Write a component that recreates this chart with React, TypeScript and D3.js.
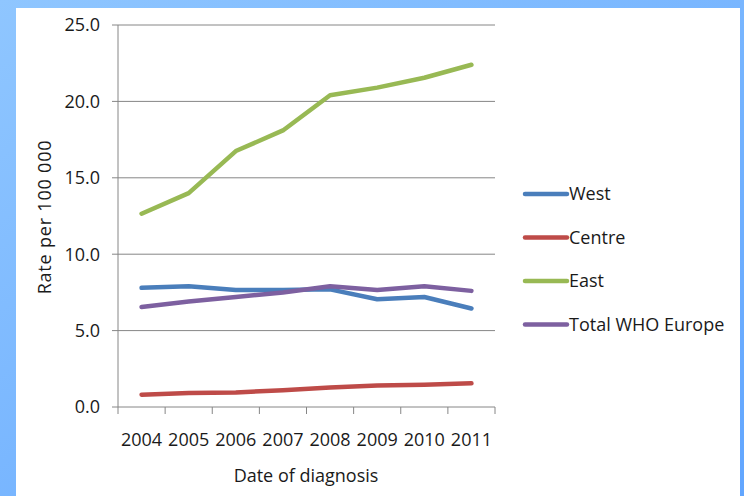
import * as d3 from "d3";

const years = ["2004", "2005", "2006", "2007", "2008", "2009", "2010", "2011"];
const westValues = [7.8, 7.9, 7.65, 7.65, 7.7, 7.05, 7.2, 6.45];
const centreValues = [0.8, 0.92, 0.95, 1.1, 1.28, 1.4, 1.45, 1.55];
const eastValues = [12.65, 14.0, 16.75, 18.1, 20.4, 20.9, 21.55, 22.4];
const totalValues = [6.55, 6.9, 7.2, 7.5, 7.9, 7.65, 7.9, 7.6];
const yTickValues = [0, 5, 10, 15, 20, 25];

const series = [
  { name: "West", color: "#4A7EBB", values: westValues },
  { name: "Centre", color: "#BE4B48", values: centreValues },
  { name: "East", color: "#98B954", values: eastValues },
  { name: "Total WHO Europe", color: "#7D60A0", values: totalValues },
];

const width = 744;
const height = 496;
const plotLeft = 118;
const plotRight = 495;
const plotTop = 25;
const plotBottom = 407;
const font = "'Open Sans', sans-serif";
const axisColor = "#868686";

export default function App() {
  const x = d3.scaleBand(years, [plotLeft, plotRight]);
  const y = d3.scaleLinear([0, 25], [plotBottom, plotTop]);
  const line = d3
    .line<number>()
    .x((_, i) => (x(years[i]) as number) + x.bandwidth() / 2)
    .y((d) => y(d));
  const boundaries = [...years.map((yr) => x(yr) as number), plotRight];

  return (
    <svg
      width={width}
      height={height}
      style={{ position: "fixed", left: 0, top: 0 }}
      fontFamily={font}
    >
      <defs>
        <linearGradient id="frame" x1="0" y1="0" x2="1" y2="1">
          <stop offset="0" stopColor="#8FC6FF" />
          <stop offset="1" stopColor="#62A6FF" />
        </linearGradient>
      </defs>
      <rect width={width} height={height} fill="url(#frame)" />
      <rect x={16} y={8} width={724} height={height - 8} fill="#fff" />

      {/* gridlines + y ticks */}
      <g stroke={axisColor} strokeWidth={1}>
        {yTickValues.map((t) => (
          <line key={t} x1={112} x2={plotRight} y1={y(t)} y2={y(t)} />
        ))}
        <line x1={plotLeft} x2={plotLeft} y1={plotTop} y2={plotBottom} />
        {boundaries.map((b, i) => (
          <line key={i} x1={b} x2={b} y1={plotBottom} y2={plotBottom + 7} />
        ))}
      </g>

      <g fontSize={18} fill="#1a1a1a">
        {yTickValues.map((t) => (
          <text key={t} x={100} y={y(t)} dy="0.35em" textAnchor="end">
            {d3.format(".1f")(t)}
          </text>
        ))}
        {years.map((yr) => (
          <text
            key={yr}
            x={(x(yr) as number) + x.bandwidth() / 2}
            y={446}
            textAnchor="middle"
          >
            {yr}
          </text>
        ))}
        <text x={306} y={482} textAnchor="middle">
          Date of diagnosis
        </text>
        <text
          transform={`translate(51,217) rotate(-90)`}
          textAnchor="middle"
          letterSpacing={0.8}
        >
          Rate per 100 000
        </text>
      </g>

      <g fill="none" strokeWidth={4.5} strokeLinecap="round" strokeLinejoin="round">
        {series.map((s) => (
          <path key={s.name} d={line(s.values) as string} stroke={s.color} />
        ))}
      </g>

      <g fontSize={18} fill="#1a1a1a">
        {series.map((s, i) => {
          const ly = 194 + i * 43.5;
          return (
            <g key={s.name}>
              <line
                x1={525}
                x2={567}
                y1={ly}
                y2={ly}
                stroke={s.color}
                strokeWidth={4.5}
                strokeLinecap="round"
              />
              <text x={569} y={ly} dy="0.35em">
                {s.name}
              </text>
            </g>
          );
        })}
      </g>
    </svg>
  );
}
